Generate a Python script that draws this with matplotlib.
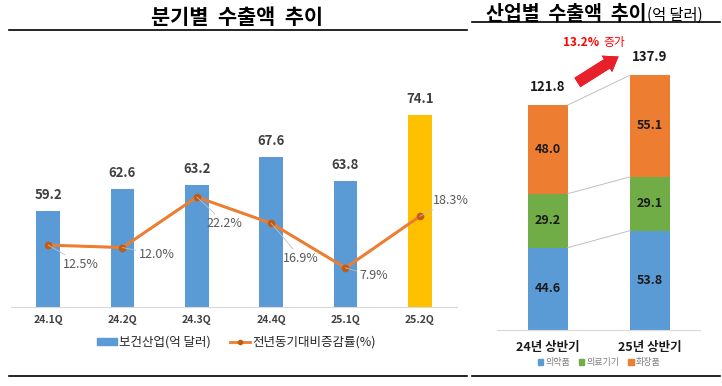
import matplotlib.pyplot as plt
from matplotlib.lines import Line2D
from matplotlib.patches import Patch
import numpy as np

plt.rcParams['font.family'] = ['Noto Sans CJK KR', 'DejaVu Sans']

# quarterly exports (left)
quarters = ['24.1Q', '24.2Q', '24.3Q', '24.4Q', '25.1Q', '25.2Q']
exports = [59.2, 62.6, 63.2, 67.6, 63.8, 74.1]
growth = [12.5, 12.0, 22.2, 16.9, 7.9, 18.3]

# half-year by industry (right)
halves = ['24년 상반기', '25년 상반기']
industries = ['의약품', '의료기기', '화장품']
pharma = [44.6, 53.8]
devices = [29.2, 29.1]
cosmetics = [48.0, 55.1]
totals = [121.8, 137.9]
increase = '13.2%'

BLUE = '#5B9BD5'
ORANGE = '#ED7D31'
YELLOW = '#FFC000'
GREEN = '#70AD47'
W, H = 722, 386

fig = plt.figure(figsize=(W / 100, H / 100), dpi=100)


def px(x0, y0, x1, y1):
    # pixel box (top-left origin) -> figure rect
    return [x0 / W, 1 - y1 / H, (x1 - x0) / W, (y1 - y0) / H]


# ---- left panel ----
ax = fig.add_axes(px(11, 40, 457, 307))
x = np.arange(len(quarters))
colors = [BLUE] * (len(quarters) - 1) + [YELLOW]
ax.bar(x, exports, width=0.32, color=colors, zorder=2)
ax.set_ylim(44.2, 85.8)
ax.set_xlim(-0.5, len(quarters) - 0.5)
for xi, v in zip(x, exports):
    ax.annotate(f'{v:.1f}', (xi, v), xytext=(0, 9), textcoords='offset pixels',
                ha='center', va='bottom', fontsize=9.5, fontweight='bold', color='#404040')
for s in ['top', 'right', 'left']:
    ax.spines[s].set_visible(False)
ax.spines['bottom'].set_color('#D9D9D9')
ax.set_yticks([])
ax.set_xticks(x)
ax.set_xticklabels(quarters, fontsize=7.5, fontweight='bold', color='#404040')
ax.tick_params(axis='x', length=0, pad=6)

ax2 = ax.twinx()
ax2.set_ylim(0, 53.9)
ax2.plot(x, growth, color=ORANGE, lw=2.2, marker='o', ms=4.5,
         mfc='#C55A11', mec='#C55A11', zorder=3)
ax2.axis('off')
offsets = [(15, -19), (16, -7), (10, -26), (12, -35), (14, -8), (13, 16)]
for xi, g, (dx, dy) in zip(x, growth, offsets):
    ax2.annotate(f'{g:.1f}%', (xi, g), xytext=(dx, dy), textcoords='offset pixels',
                 ha='left', va='center', fontsize=9, color='#595959',
                 arrowprops=dict(arrowstyle='-', color='#BFBFBF', lw=0.6,
                                 shrinkA=0, shrinkB=0))

handles = [Patch(color=BLUE),
           Line2D([], [], color=ORANGE, lw=2, marker='o', ms=3, mfc='#C55A11', mec='#C55A11')]
fig.legend(handles, ['보건산업(억 달러)', '전년동기대비증감률(%)'], loc='center',
           bbox_to_anchor=(236 / W, 1 - 342 / H), ncol=2, frameon=False,
           fontsize=9, handlelength=1.6, handleheight=0.5, columnspacing=1.5,
           handletextpad=0.2, labelcolor='#262626')

fig.text(237 / W, 1 - 17 / H, '분기별  수출액  추이', ha='center', va='center',
         fontsize=15, fontweight='bold')
fig.add_artist(Line2D([9 / W, 467 / W], [1 - 30 / H] * 2, color='black', lw=1.2))
fig.add_artist(Line2D([9 / W, 467 / W], [1 - 376 / H] * 2, color='black', lw=1.2))

# ---- right panel ----
axr = fig.add_axes(px(497, 40, 700, 330))
xr = np.arange(len(halves))
bw = 0.39
bottom3 = np.add(pharma, devices)
axr.bar(xr, pharma, bw, color=BLUE)
axr.bar(xr, devices, bw, bottom=pharma, color=GREEN)
axr.bar(xr, cosmetics, bw, bottom=bottom3, color=ORANGE)
axr.set_xlim(-0.5, 1.49)
axr.set_ylim(0, 157)
for vals, base in [(pharma, [0, 0]), (devices, pharma), (cosmetics, bottom3)]:
    for xi, v, b in zip(xr, vals, base):
        axr.text(xi, b + v / 2, f'{v:.1f}', ha='center', va='center',
                 fontsize=9, fontweight='bold', color='#1A1A1A')
for xi, t in zip(xr, totals):
    axr.annotate(f'{t:.1f}', (xi, t), xytext=(0, 11), textcoords='offset pixels',
                 ha='center', va='bottom', fontsize=9.5, fontweight='bold', color='#1A1A1A')
# connector lines between stacks
for lvl in [pharma, bottom3, np.add(bottom3, cosmetics)]:
    axr.plot([bw / 2, 1 - bw / 2], [lvl[0], lvl[1]], color='#BFBFBF', lw=0.7)
for s in ['top', 'right', 'left']:
    axr.spines[s].set_visible(False)
axr.spines['bottom'].set_color('#D9D9D9')
axr.set_yticks([])
axr.set_xticks(xr)
axr.set_xticklabels(halves, fontsize=9, fontweight='bold', color='#1A1A1A')
axr.tick_params(axis='x', length=0, pad=8)

fig.legend([Patch(color=c) for c in [BLUE, GREEN, ORANGE]], industries, loc='center',
           bbox_to_anchor=(599 / W, 1 - 363 / H), ncol=3, frameon=False,
           fontsize=6.5, handlelength=0.6, handleheight=0.6, columnspacing=1.0,
           handletextpad=0.2, labelcolor='#7F7F7F')

fig.text(647 / W, 1 - 14 / H, '산업별  수출액  추이', ha='right', va='center',
         fontsize=14, fontweight='bold')
fig.text(647 / W, 1 - 15 / H, '(억 달러)', ha='left', va='center', fontsize=11)
fig.add_artist(Line2D([472 / W, 720 / W], [1 - 22 / H] * 2, color='black', lw=1.2))
fig.add_artist(Line2D([472 / W, 720 / W], [1 - 376 / H] * 2, color='black', lw=1.2))

# red "increase" arrow
fig.add_artist(plt.annotate('', xy=(621, H - 55), xytext=(575, H - 84),
                            xycoords='figure pixels', textcoords='figure pixels',
                            arrowprops=dict(arrowstyle='simple,head_width=1.4,head_length=1.0,tail_width=0.8',
                                            color='#E8202A', lw=0)))
fig.text(599 / W, 1 - 46 / H, increase, ha='right', va='baseline',
         fontsize=8.5, fontweight='bold', color='#FF0000')
fig.text(603 / W, 1 - 46 / H, '증가', ha='left', va='baseline', fontsize=8.5, color='#FF0000')

fig.savefig('out.png', dpi=100)
